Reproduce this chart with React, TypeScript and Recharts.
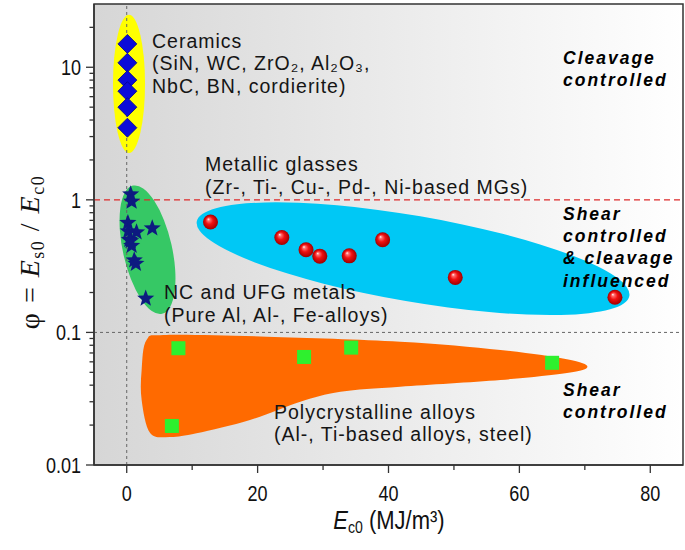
import React from "react";
import {
  ScatterChart, Scatter, XAxis, YAxis, ReferenceArea, ReferenceLine,
} from "recharts";

// ceramics (diamonds)
const ceramicsE = [0.1, 0.1, 0.1, 0.1, 0.1, 0.1];
const ceramicsPhi = [15, 10.8, 8, 6.6, 5, 3.5];

// NC and UFG metals (stars)
const ncE = [0.6, 0.75, 0.18, 3.9, 0.23, 1.5, 0.4, 0.6, 0.75, 1.15, 1.4, 2.9];
const ncPhi = [1.1, 0.97, 0.67, 0.61, 0.58, 0.57, 0.5, 0.49, 0.45, 0.35, 0.33, 0.18];

// metallic glasses (spheres)
const mgE = [12.8, 23.7, 27.4, 29.5, 34.0, 39.1, 50.2, 74.6];
const mgPhi = [0.68, 0.52, 0.42, 0.376, 0.378, 0.5, 0.26, 0.184];

// polycrystalline alloys (squares)
const polyE = [7.9, 27.1, 34.3, 65.0, 6.9];
const polyPhi = [0.076, 0.0653, 0.0768, 0.059, 0.0197];

const xTicks = [0, 10, 20, 30, 40, 50, 60, 70, 80];
const xLabelled = [0, 20, 40, 60, 80];
const yTicks = [
  0.01, 0.02, 0.03, 0.04, 0.05, 0.06, 0.07, 0.08, 0.09,
  0.1, 0.2, 0.3, 0.4, 0.5, 0.6, 0.7, 0.8, 0.9,
  1, 2, 3, 4, 5, 6, 7, 8, 9,
  10, 20,
];
const yLabelled = [0.01, 0.1, 1, 10];

// group zones, in data units (ends of each shape)
const ceramicsZone = { x1: -2.1, x2: 2.8, y1: 2.26, y2: 24.9 };
const ncZone = { x1: 0.95, x2: 5.4, y1: 0.138, y2: 1.28 };
const mgZone = { x1: 10.7, x2: 76.8, y1: 0.1886, y2: 0.686 };
const polyZone = { x1: 2.28, x2: 70.4, y1: 0.01627, y2: 0.0957 };

// outline of the polycrystalline zone, as fractions of its box
const polyOutline: [number, number][] = [
  [0.011, 0.049], [0.056, 0.0], [0.281, 0.017], [0.58, 0.066], [0.805, 0.147],
  [0.954, 0.238], [1.0, 0.311], [0.954, 0.373], [0.805, 0.441], [0.58, 0.507],
  [0.446, 0.556], [0.356, 0.654], [0.243, 0.833], [0.123, 0.964], [0.064, 1.0],
  [0.019, 0.96], [0.0, 0.637], [0.0, 0.343],
];

const zip = (xs: number[], ys: number[]) => xs.map((x, i) => ({ x, y: ys[i] }));

const SANS = "Liberation Sans, Arial, sans-serif";

const BoxEllipse = (fill: string) => (p: any) => {
  const { x, y, width, height } = p;
  return <ellipse cx={x + width / 2} cy={y + height / 2} rx={width / 2} ry={height / 2} fill={fill} />;
};

// ellipse whose long axis runs along the box diagonal (top-left to bottom-right)
const DiagEllipse = (fill: string, half: number) => (p: any) => {
  const { x, y, width, height } = p;
  const cx = x + width / 2;
  const cy = y + height / 2;
  const a = Math.hypot(width, height) / 2;
  const ang = (Math.atan2(height, width) * 180) / Math.PI;
  return (
    <ellipse cx={cx} cy={cy} rx={a} ry={half} fill={fill}
      transform={`rotate(${ang} ${cx} ${cy})`} />
  );
};

const Blob = (fill: string) => (p: any) => {
  const { x, y, width, height } = p;
  const pts = polyOutline.map(([u, v]) => [x + u * width, y + v * height]);
  const n = pts.length;
  let d = `M${pts[0][0]},${pts[0][1]}`;
  for (let i = 0; i < n; i++) {
    const p0 = pts[(i - 1 + n) % n], p1 = pts[i], p2 = pts[(i + 1) % n], p3 = pts[(i + 2) % n];
    const c1 = [p1[0] + (p2[0] - p0[0]) / 6, p1[1] + (p2[1] - p0[1]) / 6];
    const c2 = [p2[0] - (p3[0] - p1[0]) / 6, p2[1] - (p3[1] - p1[1]) / 6];
    d += ` C${c1[0]},${c1[1]} ${c2[0]},${c2[1]} ${p2[0]},${p2[1]}`;
  }
  return <path d={d + "Z"} fill={fill} />;
};

const Diamond = (p: any) => {
  const { cx, cy } = p;
  const r = 9.5;
  return (
    <polygon points={`${cx},${cy - r} ${cx + r},${cy} ${cx},${cy + r} ${cx - r},${cy}`}
      fill="#0c0cd8" stroke="#06068a" strokeWidth={0.8} />
  );
};

const Star = (p: any) => {
  const { cx, cy } = p;
  const pts: string[] = [];
  for (let i = 0; i < 10; i++) {
    const r = i % 2 === 0 ? 9 : 3.8;
    const a = -Math.PI / 2 + (i * Math.PI) / 5;
    pts.push(`${cx + r * Math.cos(a)},${cy + r * Math.sin(a)}`);
  }
  return <polygon points={pts.join(" ")} fill="#0d1a80" />;
};

const Ball = (p: any) => <circle cx={p.cx} cy={p.cy} r={7.5} fill="url(#ball)" />;

const Square = (p: any) => (
  <rect x={p.cx - 7} y={p.cy - 7} width={14} height={14} fill="#2ef02e" />
);

// narrow-looking digits: regular sans squeezed horizontally
const Narrow = ({ x, y, anchor, children }: { x: number; y: number; anchor: string; children: React.ReactNode }) => (
  <text transform={`translate(${x} ${y}) scale(0.82 1)`} textAnchor={anchor}
    fontSize={22} fontFamily={SANS} fill="#111">
    {children}
  </text>
);

const XTick = (p: any) => {
  const { x, y, payload } = p;
  const major = xLabelled.includes(payload.value);
  return (
    <g>
      <line x1={x} x2={x} y1={y} y2={y + (major ? 8 : 5)} stroke="#333" strokeWidth={1.3} />
      {major && <Narrow x={x} y={y + 36} anchor="middle">{payload.value}</Narrow>}
    </g>
  );
};

const YTick = (p: any) => {
  const { x, y, payload } = p;
  const major = yLabelled.includes(payload.value);
  return (
    <g>
      <line x1={x - (major ? 8 : 4.5)} x2={x} y1={y} y2={y} stroke="#333" strokeWidth={1.3} />
      {major && <Narrow x={x - 13} y={y + 8} anchor="end">{String(payload.value)}</Narrow>}
    </g>
  );
};

const Lines = ({ x, y, lines, bold }: { x: number; y: number; lines: string[]; bold?: boolean }) => (
  <g>
    {lines.map((l, i) => (
      <text key={i} x={x} y={y + i * (bold ? 22.4 : 22.8)} fontSize={bold ? 17.5 : 19.5} fontFamily={SANS}
        fontWeight={bold ? 700 : 400} fontStyle={bold ? "italic" : "normal"}
        letterSpacing={bold ? 2 : 1} fill={bold ? "#000" : "#151515"}>
        {l}
      </text>
    ))}
  </g>
);

const Annotations = () => (
  <svg width={685} height={550} style={{ position: "absolute", left: 0, top: 0, pointerEvents: "none" }}>
    <Lines x={152} y={47.5} lines={["Ceramics", "(SiN, WC, ZrO₂, Al₂O₃,", "NbC, BN, cordierite)"]} />
    <Lines x={205} y={171} lines={["Metallic glasses", "(Zr-, Ti-, Cu-, Pd-, Ni-based MGs)"]} />
    <Lines x={164} y={299} lines={["NC and UFG metals", "(Pure Al, Al-, Fe-alloys)"]} />
    <Lines x={274} y={418.5} lines={["Polycrystalline alloys", "(Al-, Ti-based alloys, steel)"]} />
    <Lines x={563} y={64} bold lines={["Cleavage", "controlled"]} />
    <Lines x={563} y={219.5} bold lines={["Shear", "controlled", "& cleavage", "influenced"]} />
    <Lines x={563} y={396} bold lines={["Shear", "controlled"]} />
    <text transform="translate(39 252) rotate(-90)" textAnchor="middle" fontSize={28}
      fontFamily="Liberation Serif, Times New Roman, serif" fill="#111" letterSpacing={1.5}>
      φ = <tspan fontStyle="italic">E</tspan><tspan baselineShift="-25%" fontSize={18}>s0</tspan>
      <tspan> / </tspan><tspan fontStyle="italic">E</tspan>
      <tspan baselineShift="-25%" fontSize={18}>c0</tspan>
    </text>
    <text transform="translate(389 529) scale(0.88 1)" textAnchor="middle" fontSize={25}
      fontFamily={SANS} fill="#111">
      <tspan fontStyle="italic">E</tspan><tspan baselineShift="-25%" fontSize={16}>c0</tspan>
      <tspan> (MJ/m³)</tspan>
    </text>
  </svg>
);

export default function App() {
  return (
    <div style={{ position: "absolute", left: 0, top: 0, width: 685, height: 550 }}>
      <ScatterChart width={685} height={550} margin={{ top: 4, right: 2, bottom: 0, left: 0 }}>
        <defs>
          <linearGradient id="bg" x1="0" y1="0" x2="1" y2="0">
            <stop offset="0" stopColor="#d6d6d6" />
            <stop offset="1" stopColor="#ffffff" />
          </linearGradient>
          <radialGradient id="ball" cx="0.5" cy="0.5" r="0.5" fx="0.35" fy="0.3">
            <stop offset="0" stopColor="#ffffff" />
            <stop offset="0.18" stopColor="#ff7070" />
            <stop offset="0.5" stopColor="#f01010" />
            <stop offset="1" stopColor="#a00000" />
          </radialGradient>
        </defs>
        <XAxis type="number" dataKey="x" domain={[-5, 85]} allowDataOverflow ticks={xTicks}
          interval={0} height={85} tickSize={0} tickMargin={0} tickLine={false}
          tick={<XTick />} stroke="#333" strokeWidth={1.5} />
        <YAxis type="number" dataKey="y" scale="log" domain={[0.01, 30]} allowDataOverflow
          ticks={yTicks} interval={0} width={94} tickSize={0} tickMargin={0} tickLine={false}
          tick={<YTick />} stroke="#333" strokeWidth={1.5} />
        <ReferenceArea x1={-5} x2={85} y1={0.01} y2={30} ifOverflow="visible"
          fill="url(#bg)" fillOpacity={1} stroke="#333" strokeWidth={1.5} />
        <ReferenceArea {...ceramicsZone} ifOverflow="visible" shape={BoxEllipse("#ffff00")} />
        <ReferenceArea {...ncZone} ifOverflow="visible" shape={DiagEllipse("#36c865", 24.5)} />
        <ReferenceArea {...mgZone} ifOverflow="visible" shape={DiagEllipse("#00c8f5", 43)} />
        <ReferenceArea {...polyZone} ifOverflow="visible" shape={Blob("#ff6a00")} />
        <ReferenceLine y={1} stroke="#dd2a2a" strokeDasharray="6 4" strokeWidth={1.3} ifOverflow="visible" />
        <ReferenceLine y={0.1} stroke="#666" strokeDasharray="3 3" strokeWidth={1} ifOverflow="visible" />
        <ReferenceLine x={0} stroke="#666" strokeDasharray="3 3" strokeWidth={1} ifOverflow="visible" />
        <Scatter data={zip(ceramicsE, ceramicsPhi)} shape={Diamond} isAnimationActive={false} />
        <Scatter data={zip(ncE, ncPhi)} shape={Star} isAnimationActive={false} />
        <Scatter data={zip(mgE, mgPhi)} shape={Ball} isAnimationActive={false} />
        <Scatter data={zip(polyE, polyPhi)} shape={Square} isAnimationActive={false} />
      </ScatterChart>
      <Annotations />
    </div>
  );
}
